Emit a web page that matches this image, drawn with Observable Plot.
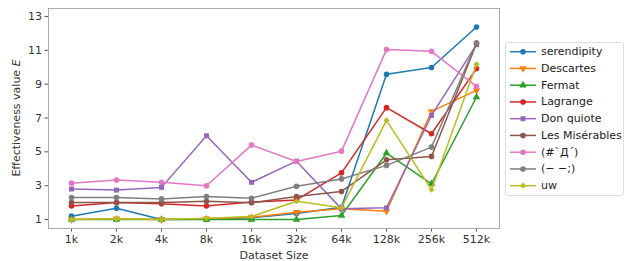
<!DOCTYPE html>
<html>
<head>
<meta charset="utf-8">
<script src="https://cdn.jsdelivr.net/npm/d3@7"></script>
<script src="https://cdn.jsdelivr.net/npm/@observablehq/plot@0.6"></script>
<style>
  html, body { margin: 0; padding: 0; background: #fff; }
  #wrap { position: relative; width: 629px; height: 261px; font-family: "DejaVu Sans", sans-serif; }
  #legend { position: absolute; left: 505px; top: 42px; }
</style>
</head>
<body>
<div id="wrap"></div>
<script>
const sizes = ["1k","2k","4k","8k","16k","32k","64k","128k","256k","512k"];
const seriesNames = ["serendipity","Descartes","Fermat","Lagrange","Don quiote","Les Misérables","(#`Д´)","(− −;)","uw"];
const colors = ["#1f77b4","#ff7f0e","#2ca02c","#d62728","#9467bd","#8c564b","#e377c2","#7f7f7f","#bcbd22"];
const serendipity   = [1.20, 1.67, 1.00, 1.02, 1.10, 1.35, 1.73, 9.58, 9.98, 12.38];
const descartes     = [1.00, 1.05, 1.00, 1.05, 1.14, 1.43, 1.63, 1.49, 7.39, 8.63];
const fermat        = [1.00, 1.00, 1.00, 1.00, 1.00, 1.00, 1.24, 4.92, 3.11, 8.24];
const lagrange      = [1.80, 2.00, 1.93, 1.80, 2.03, 2.16, 3.76, 7.61, 6.07, 9.92];
const donQuiote     = [2.80, 2.74, 2.90, 5.95, 3.20, 4.45, 1.63, 1.69, 7.15, 11.33];
const lesMiserables = [2.00, 2.00, 2.00, 2.08, 1.99, 2.36, 2.66, 4.53, 4.73, 11.40];
const kaomoji1      = [3.15, 3.33, 3.20, 3.00, 5.40, 4.43, 5.04, 11.04, 10.94, 8.87];
const kaomoji2      = [2.30, 2.30, 2.22, 2.36, 2.26, 2.97, 3.40, 4.20, 5.28, 11.45];
const uw            = [1.00, 1.05, 1.00, 1.08, 1.18, 2.08, 1.69, 6.86, 2.76, 10.17];
const yTicks = [1, 3, 5, 7, 9, 11, 13];

const allValues = [serendipity, descartes, fermat, lagrange, donQuiote, lesMiserables, kaomoji1, kaomoji2, uw];

const triangleDown = {
  draw(context, size) {
    const s = Math.sqrt(size / 0.43);
    const h = s * Math.sqrt(3) / 2;
    context.moveTo(0, h * 2 / 3);
    context.lineTo(s / 2, -h / 3);
    context.lineTo(-s / 2, -h / 3);
    context.closePath();
  }
};
const symbols = [d3.symbolCircle, triangleDown, d3.symbolTriangle, d3.symbolCircle, d3.symbolSquare, d3.symbolCircle, d3.symbolCircle, d3.symbolCircle, d3.symbolDiamond2 || d3.symbolDiamond];

const rows = [];
allValues.forEach((vals, i) => {
  vals.forEach((v, j) => rows.push({series: seriesNames[i], size: sizes[j], value: v, idx: i}));
});

const font = "DejaVu Sans, sans-serif";
const lineMarks = [];
seriesNames.forEach((name, i) => {
  const d = rows.filter(r => r.idx === i);
  lineMarks.push(Plot.line(d, {x: "size", y: "value", stroke: colors[i], strokeWidth: 1.5}));
  lineMarks.push(Plot.dot(d, {x: "size", y: "value", fill: colors[i], stroke: "none", r: 2.8, symbol: () => symbols[i]}));
});

const chart = Plot.plot({
  width: 629,
  height: 261,
  marginLeft: 48,
  marginRight: 130,
  marginTop: 8,
  marginBottom: 33,
  style: {fontFamily: font, fontSize: "11px", color: "#333", background: "transparent"},
  x: {type: "point", domain: sizes, inset: 20, padding: 0},
  y: {domain: [0.47, 13.47]},
  marks: [
    Plot.axisX({ticks: sizes, tickSize: 3.5, tickPadding: 3, fontSize: 11, label: "Dataset Size", labelAnchor: "center", labelArrow: "none", labelOffset: 30, stroke: "#555"}),
    Plot.axisY({ticks: yTicks, tickSize: 3.5, tickPadding: 3, fontSize: 11, label: null, stroke: "#555"}),
    ...lineMarks,
    Plot.frame({stroke: "#aaa", strokeWidth: 1})
  ]
});

const svg = d3.select(chart);
svg.append("text")
  .attr("transform", `translate(17,${8 + 220/2}) rotate(-90)`)
  .attr("text-anchor", "middle")
  .attr("dominant-baseline", "middle")
  .attr("font-family", font)
  .attr("font-size", 11)
  .attr("fill", "#333")
  .call(t => {
    t.append("tspan").text("Effectiveness value ");
    t.append("tspan").attr("font-style", "italic").text("E");
  });

document.getElementById("wrap").appendChild(chart);

// Legend
const legendW = 118, legendH = 153, rowH = 16.75;
const leg = d3.select("#wrap").append("svg")
  .attr("id", "legend")
  .attr("width", legendW + 2)
  .attr("height", legendH + 2);
leg.append("rect")
  .attr("x", 0.5).attr("y", 0.5).attr("rx", 2.5)
  .attr("width", legendW).attr("height", legendH)
  .attr("fill", "#fff").attr("fill-opacity", 0.8)
  .attr("stroke", "#ddd");
seriesNames.forEach((name, i) => {
  const cy = 9.7 + i * rowH;
  const g = leg.append("g").attr("transform", `translate(0,${cy})`);
  g.append("line").attr("x1", 5).attr("x2", 31).attr("y1", 0).attr("y2", 0)
    .attr("stroke", colors[i]).attr("stroke-width", 1.5);
  g.append("path").attr("transform", "translate(18,0)")
    .attr("d", d3.symbol(symbols[i], 2.8 * 2.8 * Math.PI)())
    .attr("fill", colors[i]);
  g.append("text").attr("x", 36).attr("y", 0)
    .attr("dominant-baseline", "central")
    .attr("font-family", font).attr("font-size", 11).attr("fill", "#222")
    .text(name);
});
</script>
</body>
</html>
